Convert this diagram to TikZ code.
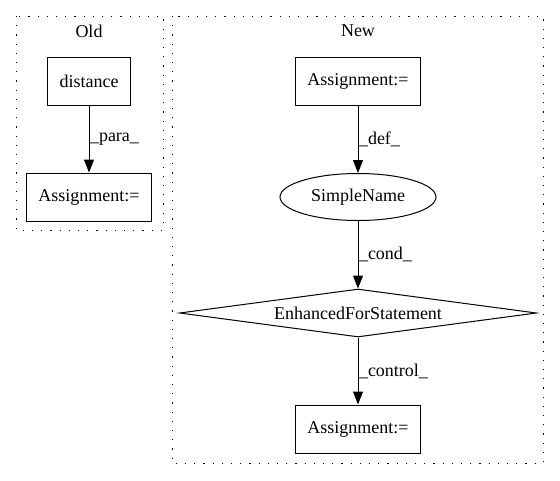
\documentclass[tikz,border=0pt]{standalone}
\usepackage{fontspec}
\setmainfont{Liberation Serif}
\usetikzlibrary{shapes.geometric,arrows.meta}
\tikzset{
	stmt/.style={draw,rectangle,line width=1pt,minimum height=48pt,inner xsep=12pt},
	edge/.style={line width=1pt,-{Triangle[length=13pt,width=10pt]}},
	elabel/.style={right,inner sep=0.5pt},
	cluster/.style={line width=1pt,dash pattern=on 1.2pt off 8pt}
}
\begin{document}
\begin{tikzpicture}[x=1pt,y=-1pt,font=\fontsize{18}{21}\selectfont]
	\useasboundingbox (0,0) rectangle (560,480);

	\draw[cluster] (16,16) rectangle (163,230); % old cluster
	\draw[cluster] (172,16) rectangle (543,463); % new cluster
	\node (oldtitle) at (89,31) {Old};
	\node (newtitle) at (358,31) {New};

	\node[stmt] (olddist) at (89,81) {distance}; % old source
	\node[stmt] (oldassign) at (89,197) {Assignment:=}; % old target

	\node[stmt] (newassign) at (358,81) {Assignment:=}; % new definition
	\node[draw,ellipse,line width=1pt,inner sep=0pt,minimum width=156pt,minimum height=47pt] (simplename) at (358,197) {SimpleName};
	\node[draw,diamond,aspect=7.4,line width=1pt,inner sep=0pt,minimum width=357pt,minimum height=48pt] (forstmt) at (358,313) {EnhancedForStatement};
	\node[stmt] (bodyassign) at (358,429) {Assignment:=}; % loop body

	\draw[edge] (olddist) -- node[elabel] {\_para\_} (oldassign);
	\draw[edge] (newassign) -- node[elabel] {\_def\_} (simplename);
	\draw[edge] (simplename) -- node[elabel] {\_cond\_} (forstmt);
	\draw[edge] (forstmt) -- node[elabel] {\_control\_} (bodyassign);
\end{tikzpicture}
\end{document}
